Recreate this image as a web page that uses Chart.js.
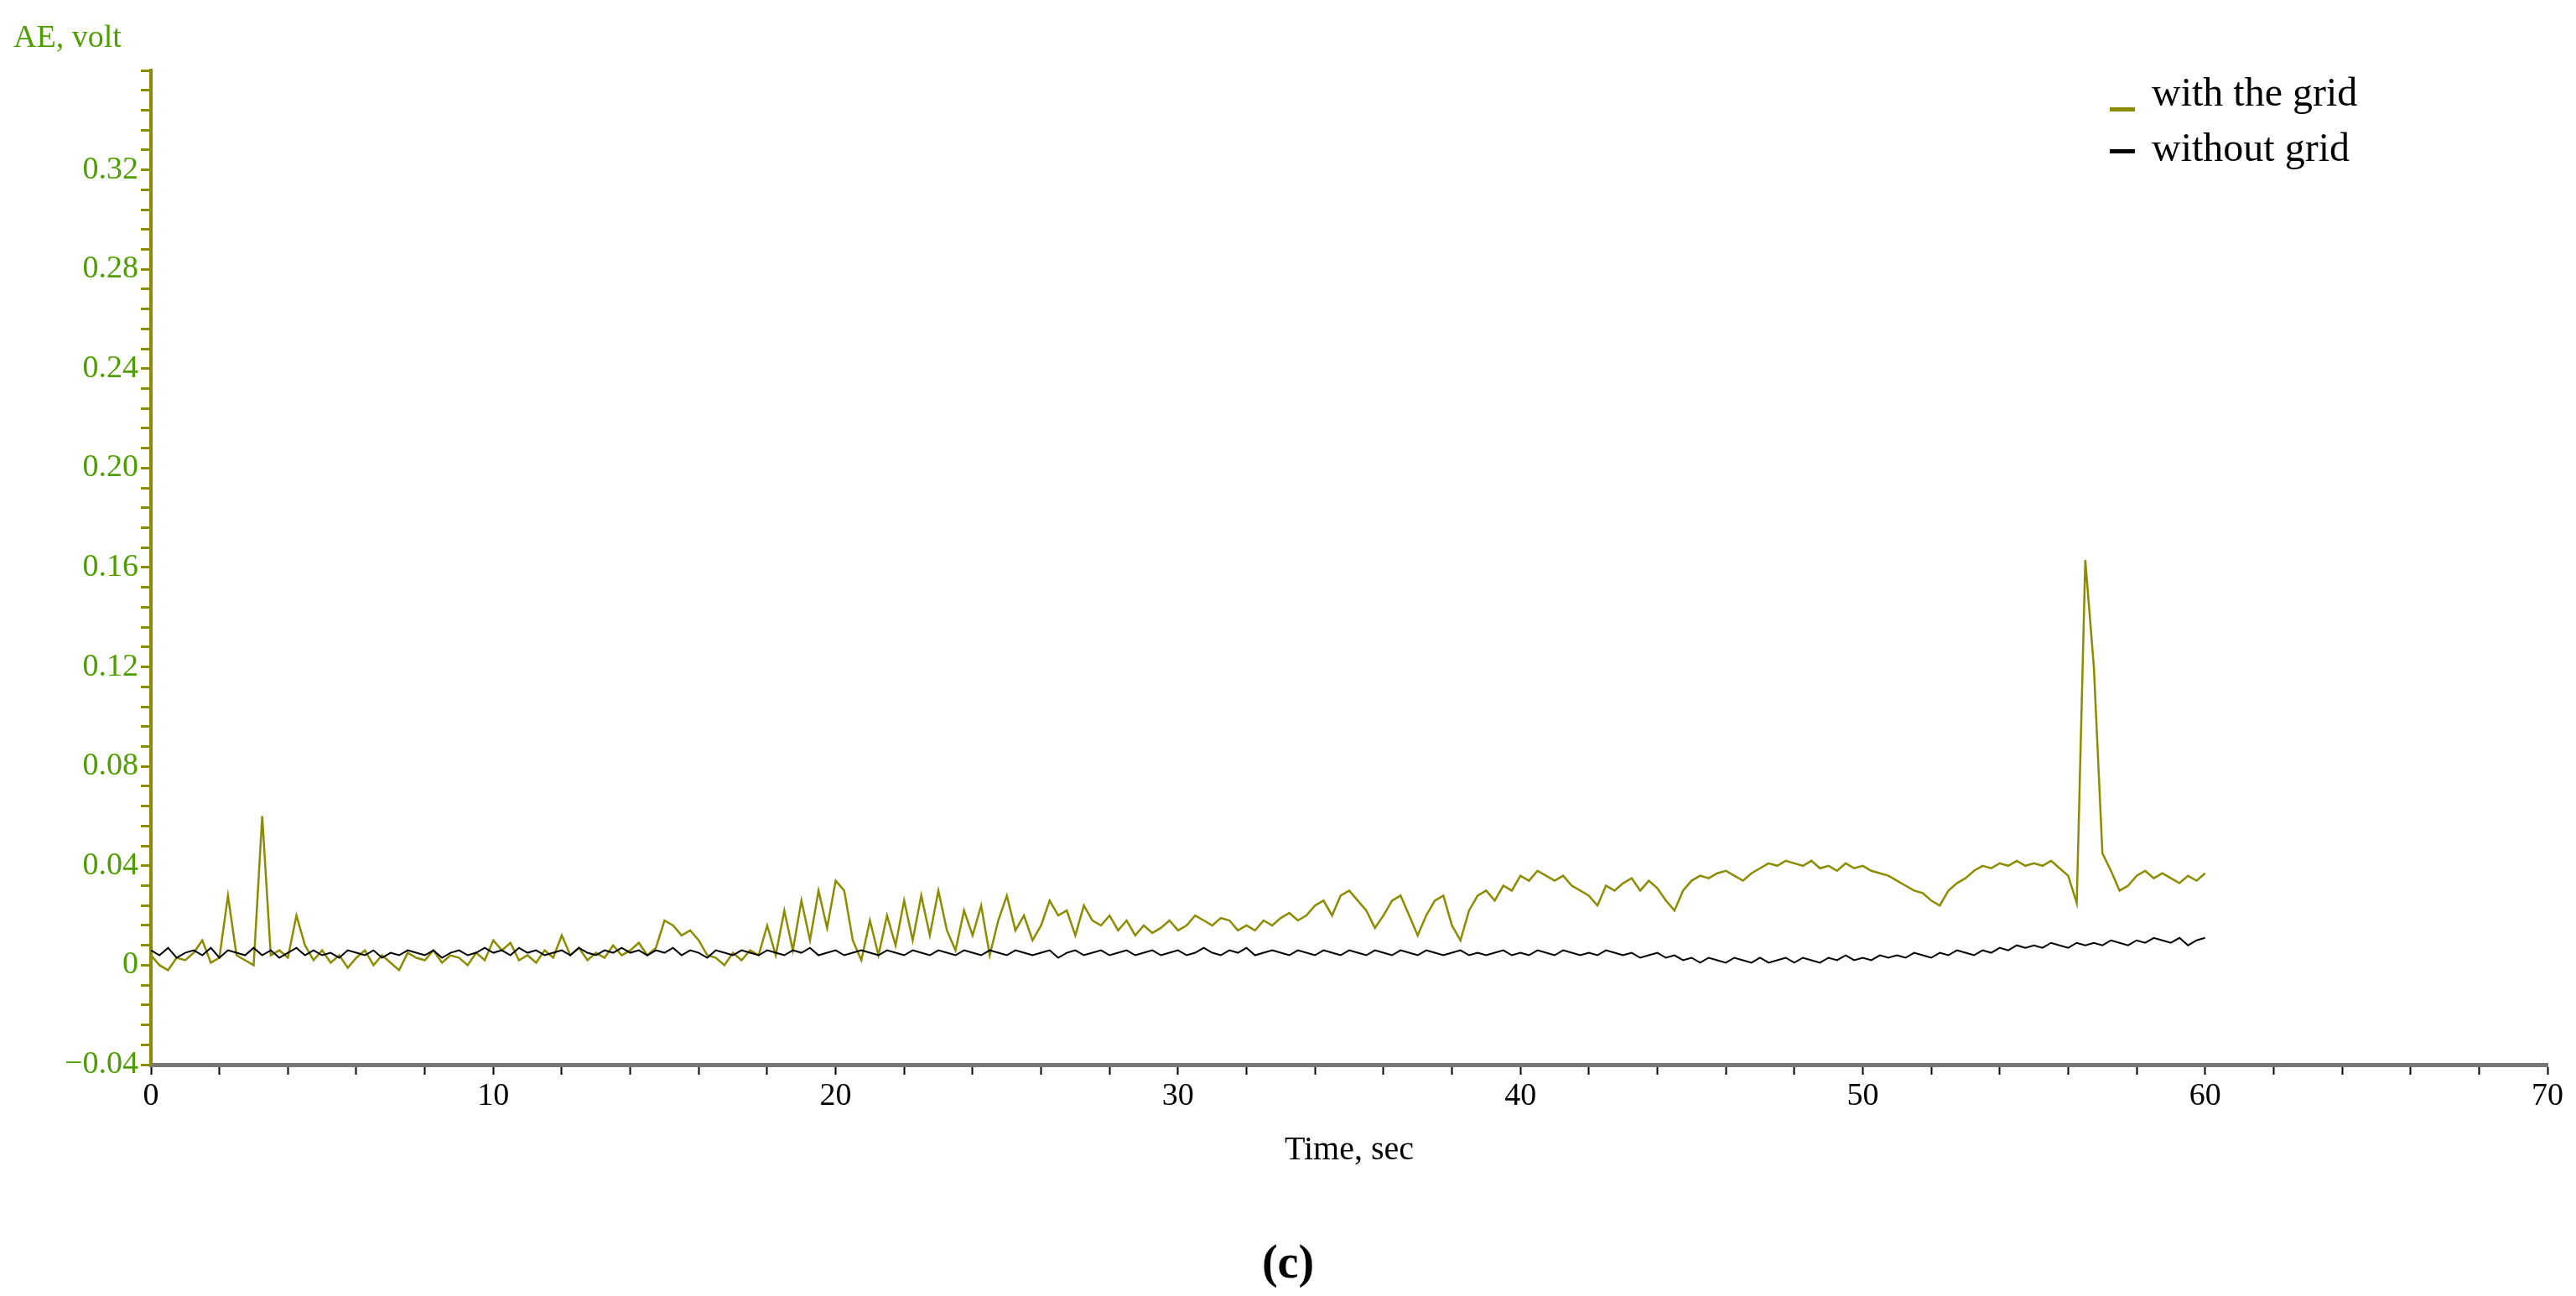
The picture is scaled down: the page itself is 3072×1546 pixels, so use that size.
<!DOCTYPE html>
<html>
<head>
<meta charset="utf-8">
<script src="https://cdn.jsdelivr.net/npm/chart.js@4/dist/chart.umd.min.js"></script>
<style>
  html, body { margin: 0; padding: 0; background: #fff; }
  #wrap { width: 3072px; height: 1546px; }
</style>
</head>
<body>
<div id="wrap"><canvas id="aeChart"></canvas></div>
<script>
// sample spacing of the recorded signals, seconds
const timeStep = 0.25;

// AE signal with the grid (0 .. 60 s)
const withGrid = [
  0.004,0.000,-0.002,0.003, 0.002,0.005,0.010,0.001, 0.003,0.028,0.004,0.002,
  0.000,0.060,0.004,0.006, 0.003,0.020,0.008,0.002, 0.006,0.001,0.004,-0.001,
  0.003,0.006,0.000,0.004, 0.001,-0.002,0.005,0.003, 0.002,0.006,0.001,0.004,
  0.003,0.000,0.005,0.002, 0.010,0.006,0.009,0.002, 0.004,0.001,0.006,0.003,
  0.012,0.004,0.007,0.002, 0.005,0.003,0.008,0.004, 0.006,0.009,0.004,0.007,
  0.018,0.016,0.012,0.014, 0.010,0.004,0.003,0.000, 0.005,0.002,0.006,0.004,
  0.016,0.004,0.022,0.006, 0.026,0.010,0.030,0.015, 0.034,0.030,0.010,0.002,
  0.018,0.004,0.020,0.008, 0.026,0.010,0.028,0.012, 0.030,0.014,0.006,0.022,
  0.012,0.024,0.004,0.018, 0.028,0.014,0.020,0.010, 0.016,0.026,0.020,0.022,
  0.012,0.024,0.018,0.016, 0.020,0.014,0.018,0.012, 0.016,0.013,0.015,0.018,
  0.014,0.016,0.020,0.018, 0.016,0.019,0.018,0.014, 0.016,0.014,0.018,0.016,
  0.019,0.021,0.018,0.020, 0.024,0.026,0.020,0.028, 0.030,0.026,0.022,0.015,
  0.020,0.026,0.028,0.020, 0.012,0.020,0.026,0.028, 0.016,0.010,0.022,0.028,
  0.030,0.026,0.032,0.030, 0.036,0.034,0.038,0.036, 0.034,0.036,0.032,0.030,
  0.028,0.024,0.032,0.030, 0.033,0.035,0.030,0.034, 0.031,0.026,0.022,0.030,
  0.034,0.036,0.035,0.037, 0.038,0.036,0.034,0.037, 0.039,0.041,0.040,0.042,
  0.041,0.040,0.042,0.039, 0.040,0.038,0.041,0.039, 0.040,0.038,0.037,0.036,
  0.034,0.032,0.030,0.029, 0.026,0.024,0.030,0.033, 0.035,0.038,0.040,0.039,
  0.041,0.040,0.042,0.040, 0.041,0.040,0.042,0.039, 0.036,0.025,0.163,0.120,
  0.045,0.038,0.030,0.032, 0.036,0.038,0.035,0.037, 0.035,0.033,0.036,0.034,
  0.037
];

// AE signal without the grid (0 .. 60 s)
const withoutGrid = [
  0.006,0.004,0.007,0.003, 0.005,0.006,0.004,0.007, 0.003,0.006,0.005,0.004,
  0.007,0.004,0.006,0.003, 0.005,0.007,0.004,0.006, 0.004,0.005,0.003,0.006,
  0.005,0.004,0.006,0.003, 0.005,0.004,0.006,0.005, 0.004,0.006,0.003,0.005,
  0.006,0.004,0.005,0.007, 0.005,0.006,0.004,0.007, 0.005,0.006,0.004,0.005,
  0.006,0.004,0.007,0.005, 0.004,0.006,0.005,0.007, 0.005,0.006,0.004,0.006,
  0.005,0.007,0.004,0.006, 0.005,0.003,0.006,0.005, 0.004,0.006,0.005,0.004,
  0.006,0.005,0.004,0.006, 0.005,0.007,0.004,0.005, 0.006,0.004,0.005,0.006,
  0.005,0.004,0.006,0.005, 0.004,0.006,0.005,0.004, 0.006,0.005,0.004,0.006,
  0.005,0.004,0.006,0.005, 0.004,0.006,0.005,0.004, 0.005,0.006,0.003,0.005,
  0.006,0.004,0.005,0.006, 0.004,0.005,0.006,0.004, 0.005,0.006,0.004,0.005,
  0.006,0.004,0.005,0.007, 0.005,0.004,0.006,0.005, 0.007,0.004,0.005,0.006,
  0.005,0.004,0.006,0.005, 0.004,0.006,0.005,0.004, 0.006,0.005,0.004,0.006,
  0.005,0.004,0.006,0.005, 0.004,0.006,0.005,0.004, 0.005,0.006,0.004,0.005,
  0.004,0.005,0.006,0.004, 0.005,0.004,0.006,0.005, 0.004,0.006,0.005,0.004,
  0.005,0.004,0.006,0.005, 0.004,0.005,0.003,0.004, 0.005,0.003,0.004,0.002,
  0.003,0.001,0.003,0.002, 0.001,0.003,0.002,0.001, 0.003,0.001,0.002,0.003,
  0.001,0.003,0.002,0.001, 0.003,0.002,0.004,0.002, 0.003,0.002,0.004,0.003,
  0.004,0.003,0.005,0.004, 0.003,0.005,0.004,0.006, 0.005,0.004,0.006,0.005,
  0.007,0.006,0.008,0.007, 0.008,0.007,0.009,0.008, 0.007,0.009,0.008,0.009,
  0.008,0.010,0.009,0.008, 0.010,0.009,0.011,0.010, 0.009,0.011,0.008,0.010,
  0.011
];

const seriesLabels = ['with the grid', 'without grid'];
const seriesColors = ['#8c8c00', '#000000'];

function toPoints(values) {
  return values.map((v, i) => ({ x: i * timeStep, y: v }));
}

// axis title, legend and caption drawn on the canvas
const extras = {
  id: 'extras',
  afterDraw(chart) {
    const ctx = chart.ctx;
    ctx.save();
    ctx.textBaseline = 'alphabetic';
    ctx.textAlign = 'left';
    ctx.fillStyle = '#4f9e00';
    ctx.font = '38px "Liberation Serif"';
    ctx.fillText('AE, volt', 16, 56);

    ctx.font = '48px "Liberation Serif"';
    seriesLabels.forEach((lab, i) => {
      const y = 126 + i * 66;
      ctx.fillStyle = seriesColors[i];
      ctx.fillRect(2516, i === 0 ? y + 2 : y - 14, 30, 5);
      ctx.fillStyle = '#000';
      ctx.fillText(lab, 2566, y);
    });

    ctx.textAlign = 'center';
    ctx.font = 'bold 56px "Liberation Serif"';
    ctx.fillText('(c)', 1536, 1524);
    ctx.restore();
  }
};

new Chart(document.getElementById('aeChart').getContext('2d'), {
  type: 'line',
  data: {
    datasets: [
      { label: seriesLabels[1], data: toPoints(withoutGrid), borderColor: seriesColors[1], borderWidth: 2, pointRadius: 0, tension: 0 },
      { label: seriesLabels[0], data: toPoints(withGrid), borderColor: seriesColors[0], borderWidth: 2.5, pointRadius: 0, tension: 0 }
    ]
  },
  options: {
    responsive: true,
    maintainAspectRatio: false,
    animation: false,
    layout: { padding: { top: 84, right: 34, left: 0, bottom: 146 } },
    plugins: { legend: { display: false }, tooltip: { enabled: false } },
    scales: {
      x: {
        type: 'linear',
        min: 0, max: 70,
        afterFit(s) { s.height = 130; },
        ticks: {
          stepSize: 2, autoSkip: false, maxRotation: 0,
          color: '#000', font: { family: 'Liberation Serif', size: 38 },
          callback: v => (v % 10 === 0 ? String(v) : '')
        },
        grid: { drawOnChartArea: false, color: '#000', tickLength: 12, tickWidth: 2 },
        border: { color: '#777', width: 5 },
        title: { display: true, text: 'Time, sec', color: '#000', font: { family: 'Liberation Serif', size: 40 }, padding: { top: 0 } }
      },
      y: {
        min: -0.04, max: 0.36,
        afterFit(s) { s.width = 180; },
        ticks: {
          stepSize: 0.008, autoSkip: false,
          color: '#4f9e00', font: { family: 'Liberation Serif', size: 38 },
          callback: v => {
            const k = Math.round(v / 0.008);
            if (k % 5 !== 0 || k >= 45) return '';
            const val = k * 0.008;
            if (k === 0) return '0';
            return (val < 0 ? '\u22120' : '0') + Math.abs(val).toFixed(2).slice(1);
          }
        },
        grid: { drawOnChartArea: false, color: '#8c8c00', tickLength: 12, tickWidth: 3 },
        border: { color: '#8c8c00', width: 4 }
      }
    }
  },
  plugins: [extras]
});
</script>
</body>
</html>
